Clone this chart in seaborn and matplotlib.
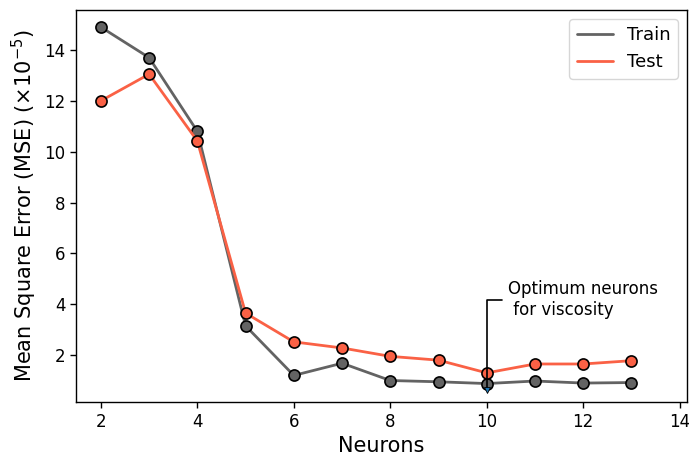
import matplotlib
matplotlib.use("Agg")
import matplotlib.pyplot as plt
from matplotlib.lines import Line2D
import seaborn as sns
import pandas as pd

neurons = [2, 3, 4, 5, 6, 7, 8, 9, 10, 11, 12, 13]
train_mse = [14.9, 13.7, 10.8, 3.15, 1.2, 1.68, 1.0, 0.95, 0.88, 0.98, 0.9, 0.92]
test_mse = [12.0, 13.05, 10.42, 3.65, 2.52, 2.28, 1.95, 1.8, 1.3, 1.65, 1.65, 1.78]

TRAIN_COLOR = "#636363"
TEST_COLOR = "#FA6145"

sns.set_style("ticks")
plt.rcParams["font.family"] = ["DejaVu Sans"]
plt.rcParams["text.color"] = "black"
plt.rcParams["axes.labelcolor"] = "black"
plt.rcParams["xtick.color"] = "black"
plt.rcParams["ytick.color"] = "black"

df = pd.DataFrame({"Neurons": neurons, "Train": train_mse, "Test": test_mse})

fig = plt.figure(figsize=(6.89, 4.58), dpi=100)
ax = fig.add_axes([0.110, 0.122, 0.887, 0.856])

sns.lineplot(data=df, x="Neurons", y="Train", ax=ax, color=TRAIN_COLOR, lw=2,
             marker="o", markersize=8, markeredgecolor="black", markeredgewidth=1.2,
             zorder=2)
sns.lineplot(data=df, x="Neurons", y="Test", ax=ax, color=TEST_COLOR, lw=2,
             marker="o", markersize=8, markeredgecolor="black", markeredgewidth=1.2,
             zorder=3)

# optimum marker + annotation
ax.plot([10], [0.62], marker="v", color="#1f77b4", markersize=5,
        markeredgecolor="black", markeredgewidth=0.6, zorder=4)
ax.annotate("Optimum neurons\n for viscosity", xy=(10, 0.62), xytext=(10.45, 4.18),
            fontsize=12, ha="left", va="center",
            arrowprops=dict(arrowstyle="-", color="black", lw=1.2,
                            connectionstyle="angle,angleA=0,angleB=90,rad=0",
                            shrinkA=2, shrinkB=0))

ax.set_xlim(1.48, 14.15)
ax.set_ylim(0.15, 15.57)
ax.set_xticks([2, 4, 6, 8, 10, 12, 14])
ax.set_yticks([2, 4, 6, 8, 10, 12, 14])
ax.tick_params(labelsize=12, width=1, length=4)
for s in ax.spines.values():
    s.set_visible(True)
    s.set_linewidth(1)
    s.set_color("black")

ax.set_xlabel("Neurons", fontsize=15)
ax.set_ylabel(r"Mean Square Error (MSE) ($\times10^{-5}$)", fontsize=15)
handles = [Line2D([], [], color=TRAIN_COLOR, lw=2), Line2D([], [], color=TEST_COLOR, lw=2)]
ax.legend(handles, ["Train", "Test"], loc="upper right", fontsize=13)

fig.savefig("out.png", dpi=100)
